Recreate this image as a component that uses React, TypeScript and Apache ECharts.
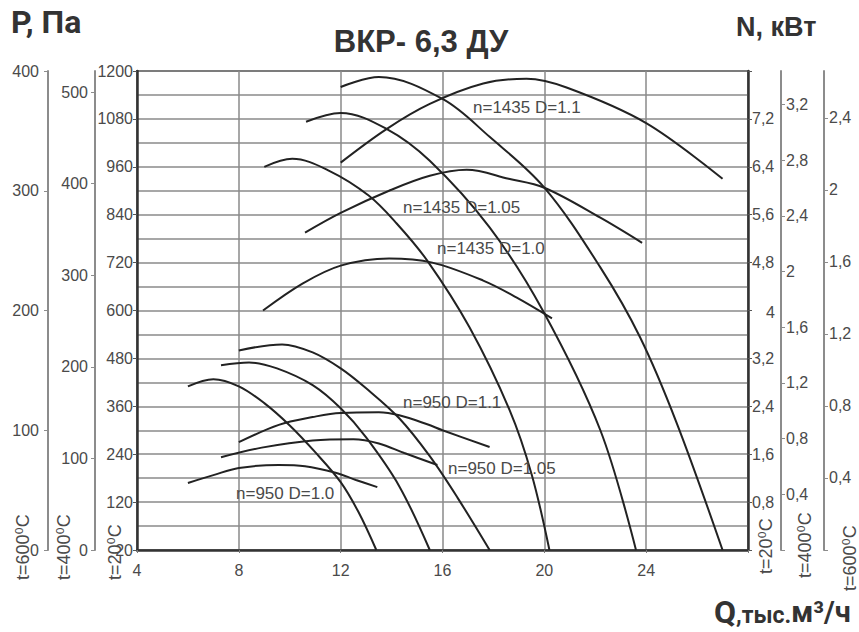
import React, { useEffect, useRef } from "react";
import * as echarts from "echarts";

// ---- axes (ranges, tick steps) ----
const Q_MIN = 4;
const Q_MAX = 28;
const Q_STEP = 4;
const P20_MAX = 1200; // Pa, t=20°C
const P20_STEP = 120;
const P400_MAX = 523;
const P600_MAX = 400;
const P_HOT_STEP = 100;
const N20_MAX = 8; // kW, t=20°C
const N20_STEP = 0.8;
const N400_MAX = 3.44;
const N600_MAX = 2.66;
const N_HOT_STEP = 0.4;

// ---- pressure curves P(Q), Pa at t=20°C ----
const q950_10_p = [6.0, 7.0, 8.0, 9.0, 10.0, 11.0, 12.0, 12.7, 13.4];
const p950_10 = [410, 428, 410, 368, 312, 245, 170, 95, 0];
const q950_105_p = [7.3, 8.4, 9.5, 10.9, 12.0, 13.0, 14.3, 15.5];
const p950_105 = [463, 470, 455, 413, 355, 282, 160, 0];
const q950_11_p = [8.0, 9.7, 10.9, 12.0, 13.0, 14.3, 15.5, 16.6, 17.85];
const p950_11 = [500, 515, 495, 455, 405, 330, 235, 130, 0];
const q1435_10_p = [9.0, 10.1, 11.55, 13.1, 14.2, 15.4, 17.06, 18.64, 19.5, 20.2];
const p1435_10 = [960, 980, 950, 888, 818, 725, 558, 350, 190, 0];
const q1435_105_p = [10.64, 12.0, 13.8, 15.5, 17.85, 19.94, 22.2, 23.6];
const p1435_105 = [1073, 1095, 1055, 975, 808, 600, 300, 0];
const q1435_11_p = [12.0, 13.5, 16.0, 17.85, 20.0, 22.2, 23.76, 25.2, 27.0];
const p1435_11 = [1160, 1185, 1130, 1035, 908, 708, 533, 318, 0];

// ---- power curves N(Q), kW at t=20°C ----
const q950_10_n = [6.0, 7.0, 8.0, 9.57, 10.6, 11.8, 12.6, 13.44];
const n950_10 = [1.12, 1.25, 1.37, 1.42, 1.4, 1.29, 1.17, 1.05];
const q950_105_n = [7.3, 8.9, 10.9, 12.5, 13.5, 14.5, 15.8];
const n950_105 = [1.55, 1.71, 1.83, 1.85, 1.78, 1.62, 1.42];
const q950_11_n = [8.0, 9.57, 10.9, 12.0, 13.5, 14.3, 15.4, 16.0, 17.85];
const n950_11 = [1.8, 2.09, 2.22, 2.29, 2.3, 2.25, 2.1, 2.0, 1.72];
const q1435_10_n = [8.95, 10.5, 12.0, 13.9, 15.6, 17.6, 18.9, 20.3];
const n1435_10 = [4.0, 4.45, 4.75, 4.87, 4.8, 4.5, 4.22, 3.87];
const q1435_105_n = [10.6, 12.0, 13.9, 15.5, 16.95, 18.6, 20.0, 22.2, 23.84];
const n1435_105 = [5.3, 5.63, 6.0, 6.25, 6.35, 6.2, 6.05, 5.55, 5.13];
const q1435_11_n = [12.0, 13.8, 15.5, 17.6, 19.3, 20.9, 24.0, 27.0];
const n1435_11 = [6.47, 7.03, 7.45, 7.79, 7.87, 7.72, 7.13, 6.2];

// ---- texts ----
const TITLE = "ВКР- 6,3 ДУ";
const P_TITLE = "P, Па";
const N_TITLE = "N, кВт";
const CURVE_LABELS = [
  "n=1435 D=1.1",
  "n=1435 D=1.05",
  "n=1435 D=1.0",
  "n=950 D=1.1",
  "n=950 D=1.05",
  "n=950 D=1.0",
];
const TEMP_LABELS = ["t=600⁰C", "t=400⁰C", "t=20⁰C"];

const FONT = "Liberation Sans, Arial, DejaVu Sans, sans-serif";
const TICK_COLOR = "#4a4a4a";
const CURVE_COLOR = "#222";

const zip = (xs: number[], ys: number[]) => xs.map((x, i) => [x, ys[i]]);
const comma = (v: number) => {
  const r = Math.round(v * 10) / 10;
  return Number.isInteger(r) ? String(r) : r.toFixed(1).replace(".", ",");
};
const isStep = (v: number, s: number) => Math.abs(v / s - Math.round(v / s)) < 1e-6;

export default function App() {
  const ref = useRef<HTMLDivElement>(null);

  useEffect(() => {
    if (!ref.current) return;
    const chart = echarts.init(ref.current, undefined, { renderer: "svg" });

    const labelStyle = { color: TICK_COLOR, fontSize: 16, fontFamily: FONT };
    const sideAxis = (opts: any) => ({
      type: "value",
      min: 0,
      splitLine: { show: false },
      axisLine: { show: true, onZero: false, lineStyle: { color: "#8c8c8c", width: 2 } },
      axisTick: { show: true, length: 4, lineStyle: { color: "#8c8c8c" } },
      ...opts,
    });

    const line = (data: number[][], yAxisIndex: number) => ({
      type: "line",
      data,
      yAxisIndex,
      smooth: 0.35,
      showSymbol: false,
      symbol: "none",
      lineStyle: { color: CURVE_COLOR, width: 2 },
      z: 5,
    });

    const txt = (text: string, x: number, y: number, size: number, extra: any = {}) => ({
      type: "text",
      x,
      y,
      style: {
        text,
        fill: extra.fill || TICK_COLOR,
        fontSize: size,
        fontFamily: extra.fontFamily || FONT,
        fontWeight: extra.fontWeight || "normal",
        align: extra.align || "left",
        textAlign: extra.align || "left",
        verticalAlign: "middle",
        textVerticalAlign: "middle",
      },
      rotation: extra.rotation || 0,
      z: 10,
    });

    const vert = (text: string, x: number, y: number) =>
      txt(text, x, y, 18, { rotation: Math.PI / 2 });

    chart.setOption({
      animation: false,
      grid: {
        left: 137,
        right: 111,
        top: 71,
        bottom: 82,
        show: true,
        borderColor: "#555",
        borderWidth: 2,
      },
      xAxis: {
        type: "value",
        min: Q_MIN,
        max: Q_MAX,
        interval: Q_STEP,
        axisLine: { show: true, onZero: false, lineStyle: { color: "#333", width: 2.5 } },
        axisTick: { show: true, length: 3, lineStyle: { color: "#777" } },
        axisLabel: {
          ...labelStyle,
          margin: 12,
          formatter: (v: number) => (v === Q_MAX ? "" : String(v)),
        },
        splitLine: { show: true, lineStyle: { color: "#8a8a8a", width: 1.5 } },
      },
      yAxis: [
        {
          type: "value",
          position: "left",
          min: 0,
          max: P20_MAX,
          interval: P20_STEP,
          axisLine: { show: true, onZero: false, lineStyle: { color: "#333", width: 2.5 } },
          axisTick: { show: true, length: 4, lineStyle: { color: "#555" } },
          axisLabel: {
            ...labelStyle,
            margin: 4,
            formatter: (v: number) => (v === 0 ? "20" : String(v)),
          },
          splitLine: { show: true, lineStyle: { color: "#8a8a8a", width: 1.5 } },
          minorTick: { show: false, splitNumber: 2 },
          minorSplitLine: { show: true, lineStyle: { color: "#8a8a8a", width: 1.5 } },
        },
        sideAxis({
          position: "left",
          offset: 42,
          max: P400_MAX,
          interval: P_HOT_STEP,
          axisLabel: {
            ...labelStyle,
            margin: 7,
            showMaxLabel: false,
            formatter: (v: number) => (isStep(v, P_HOT_STEP) ? String(Math.round(v)) : ""),
          },
        }),
        sideAxis({
          position: "left",
          offset: 89,
          max: P600_MAX,
          interval: P_HOT_STEP,
          axisLabel: {
            ...labelStyle,
            margin: 9,
            formatter: (v: number) => String(Math.round(v)),
          },
        }),
        {
          type: "value",
          position: "right",
          min: 0,
          max: N20_MAX,
          interval: N20_STEP,
          splitLine: { show: false },
          axisLine: { show: true, onZero: false, lineStyle: { color: "#333", width: 2.5 } },
          axisTick: { show: true, length: 4, lineStyle: { color: "#555" } },
          axisLabel: {
            ...labelStyle,
            margin: 4,
            formatter: (v: number) => {
              if (v <= 0 || v >= N20_MAX - 1e-6) return "";
              const s = comma(v);
              return s === "4" ? "{pad|4}" : s;
            },
            rich: { pad: { ...labelStyle, padding: [4, 0, 0, 14] } },
          },
        },
        sideAxis({
          position: "right",
          offset: 33,
          max: N400_MAX,
          interval: N_HOT_STEP,
          axisLabel: {
            ...labelStyle,
            margin: 5,
            showMaxLabel: false,
            formatter: (v: number) => (v <= 0 || !isStep(v, N_HOT_STEP) ? "" : comma(v)),
          },
        }),
        sideAxis({
          position: "right",
          offset: 76,
          max: N600_MAX,
          interval: N_HOT_STEP,
          axisLabel: {
            ...labelStyle,
            margin: 5,
            showMaxLabel: false,
            formatter: (v: number) => (v <= 0 || !isStep(v, N_HOT_STEP) ? "" : comma(v)),
          },
        }),
      ],
      series: [
        line(zip(q950_10_p, p950_10), 0),
        line(zip(q950_105_p, p950_105), 0),
        line(zip(q950_11_p, p950_11), 0),
        line(zip(q1435_10_p, p1435_10), 0),
        line(zip(q1435_105_p, p1435_105), 0),
        line(zip(q1435_11_p, p1435_11), 0),
        line(zip(q950_10_n, n950_10), 3),
        line(zip(q950_105_n, n950_105), 3),
        line(zip(q950_11_n, n950_11), 3),
        line(zip(q1435_10_n, n1435_10), 3),
        line(zip(q1435_105_n, n1435_105), 3),
        line(zip(q1435_11_n, n1435_11), 3),
      ],
      graphic: [
        txt(P_TITLE, 11, 22, 32, { fontWeight: "bold", fontFamily: "Roboto, sans-serif", fill: "#333" }),
        txt(TITLE, 421, 41, 31, { fontWeight: "bold", align: "center", fill: "#333" }),
        txt(N_TITLE, 736, 27, 27, { fontWeight: "bold", fill: "#333" }),
        {
          type: "text",
          x: 714,
          y: 612,
          style: {
            text: "{q|Q}{a|,тыс.}{b|м³/ч}",
            fill: "#333",
            align: "left",
            textAlign: "left",
            verticalAlign: "middle",
            textVerticalAlign: "middle",
            rich: {
              q: { fontSize: 32, fontWeight: "bold", fontFamily: "Roboto, sans-serif", fill: "#333" },
              a: { fontSize: 23, fontWeight: "bold", fontFamily: "Roboto, sans-serif", fill: "#333", padding: [6, 0, 0, 0] },
              b: { fontSize: 29, fontWeight: "bold", fontFamily: "Roboto, sans-serif", fill: "#333" },
            },
          },
          z: 10,
        },
        txt(CURVE_LABELS[0], 473, 107, 17),
        txt(CURVE_LABELS[1], 403, 207, 17),
        txt(CURVE_LABELS[2], 437, 248, 17),
        txt(CURVE_LABELS[3], 403, 402, 17),
        txt(CURVE_LABELS[4], 448, 468, 17),
        txt(CURVE_LABELS[5], 236, 493, 17),
        vert(TEMP_LABELS[0], 23, 580),
        vert(TEMP_LABELS[1], 64, 580),
        vert(TEMP_LABELS[2], 115, 580),
        vert(TEMP_LABELS[2], 766, 574),
        vert(TEMP_LABELS[1], 805, 578),
        vert(TEMP_LABELS[0], 850, 591),
      ],
    });

    return () => chart.dispose();
  }, []);

  return (
    <div
      ref={ref}
      style={{ position: "fixed", left: 0, top: 0, width: 859, height: 632, background: "#fff" }}
    />
  );
}
